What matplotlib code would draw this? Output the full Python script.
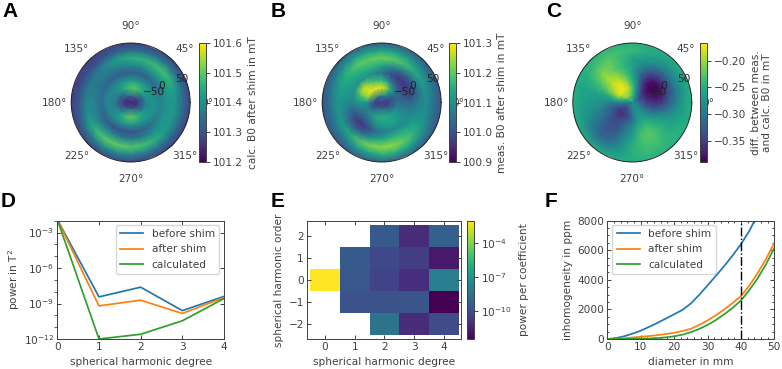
import numpy as np
import matplotlib
matplotlib.use('Agg')
import matplotlib.pyplot as plt
from matplotlib.colors import LogNorm
from matplotlib.ticker import NullFormatter, LogLocator, AutoMinorLocator

W, H = 782, 369
GREY = '#404040'

plt.rcParams['font.size'] = 7.6
plt.rcParams['axes.edgecolor'] = GREY
plt.rcParams['text.color'] = GREY
plt.rcParams['axes.labelcolor'] = GREY
plt.rcParams['xtick.color'] = GREY
plt.rcParams['ytick.color'] = GREY
plt.rcParams['axes.linewidth'] = 0.7

# values: one row per radius, one column per 15 degrees
theta_deg = np.arange(0, 360, 15)
radius = [0, 0.12, 0.25, 0.38, 0.5, 0.62, 0.75, 0.88, 1.03]

calc_b0 = [
    [101.24] * 24,
    [101.27, 101.27, 101.28, 101.30, 101.32, 101.34, 101.35, 101.34, 101.32, 101.30, 101.28, 101.27, 101.27, 101.27, 101.28, 101.30, 101.32, 101.34, 101.35, 101.34, 101.32, 101.30, 101.28, 101.27],
    [101.38, 101.39, 101.42, 101.45, 101.48, 101.50, 101.49, 101.47, 101.44, 101.41, 101.38, 101.37, 101.36, 101.37, 101.39, 101.42, 101.46, 101.49, 101.50, 101.49, 101.46, 101.43, 101.40, 101.38],
    [101.41, 101.41, 101.41, 101.41, 101.41, 101.41, 101.41, 101.40, 101.40, 101.39, 101.39, 101.39, 101.39, 101.39, 101.39, 101.40, 101.40, 101.40, 101.40, 101.40, 101.40, 101.41, 101.41, 101.41],
    [101.38, 101.36, 101.34, 101.33, 101.32, 101.32, 101.32, 101.32, 101.32, 101.33, 101.33, 101.34, 101.34, 101.33, 101.32, 101.31, 101.30, 101.30, 101.30, 101.31, 101.33, 101.35, 101.37, 101.38],
    [101.41, 101.41, 101.41, 101.41, 101.40, 101.38, 101.38, 101.37, 101.36, 101.36, 101.36, 101.37, 101.38, 101.38, 101.38, 101.39, 101.39, 101.38, 101.37, 101.37, 101.38, 101.40, 101.41, 101.41],
    [101.41, 101.43, 101.46, 101.48, 101.47, 101.46, 101.45, 101.43, 101.40, 101.37, 101.36, 101.37, 101.38, 101.40, 101.44, 101.48, 101.50, 101.50, 101.49, 101.48, 101.46, 101.43, 101.41, 101.41],
    [101.34, 101.35, 101.36, 101.37, 101.36, 101.35, 101.34, 101.33, 101.31, 101.30, 101.30, 101.30, 101.31, 101.32, 101.35, 101.37, 101.39, 101.39, 101.38, 101.37, 101.36, 101.35, 101.34, 101.34],
    [101.27] * 24,
]

meas_b0 = [
    [100.97] * 24,
    [100.98, 100.98, 101.00, 101.03, 101.05, 101.07, 101.08, 101.08, 101.07, 101.05, 101.03, 101.00, 100.98, 100.98, 100.99, 101.01, 101.03, 101.05, 101.05, 101.05, 101.03, 101.01, 100.99, 100.98],
    [101.05, 101.04, 101.05, 101.10, 101.17, 101.25, 101.28, 101.29, 101.29, 101.28, 101.26, 101.20, 101.12, 101.08, 101.08, 101.10, 101.13, 101.15, 101.15, 101.15, 101.14, 101.12, 101.10, 101.07],
    [101.04, 101.01, 101.00, 101.00, 101.03, 101.11, 101.16, 101.17, 101.20, 101.26, 101.25, 101.17, 101.11, 101.07, 101.04, 101.03, 101.06, 101.10, 101.12, 101.13, 101.13, 101.12, 101.10, 101.07],
    [101.03, 100.98, 100.97, 100.96, 100.97, 101.00, 101.05, 101.08, 101.10, 101.11, 101.11, 101.10, 101.08, 101.03, 100.98, 100.96, 100.98, 101.03, 101.06, 101.08, 101.09, 101.09, 101.09, 101.07],
    [101.07, 101.04, 101.03, 101.03, 101.05, 101.09, 101.13, 101.16, 101.15, 101.14, 101.13, 101.12, 101.10, 101.07, 101.03, 101.02, 101.05, 101.11, 101.14, 101.16, 101.16, 101.14, 101.12, 101.09],
    [101.10, 101.11, 101.13, 101.15, 101.18, 101.20, 101.21, 101.20, 101.20, 101.17, 101.14, 101.12, 101.11, 101.11, 101.12, 101.14, 101.19, 101.22, 101.23, 101.23, 101.20, 101.16, 101.12, 101.10],
    [101.05, 101.06, 101.07, 101.09, 101.11, 101.13, 101.13, 101.13, 101.13, 101.11, 101.08, 101.06, 101.05, 101.05, 101.06, 101.07, 101.11, 101.13, 101.15, 101.15, 101.13, 101.10, 101.07, 101.05],
    [101.00] * 24,
]

diff_b0 = [
    [-0.28] * 24,
    [-0.31, -0.32, -0.32, -0.31, -0.29, -0.26, -0.24, -0.22, -0.21, -0.21, -0.23, -0.26, -0.29, -0.31, -0.33, -0.33, -0.32, -0.31, -0.29, -0.28, -0.28, -0.28, -0.29, -0.30],
    [-0.35, -0.36, -0.37, -0.36, -0.33, -0.28, -0.23, -0.19, -0.175, -0.17, -0.18, -0.23, -0.29, -0.33, -0.355, -0.36, -0.355, -0.34, -0.31, -0.28, -0.27, -0.28, -0.30, -0.33],
    [-0.36, -0.38, -0.385, -0.385, -0.36, -0.30, -0.25, -0.21, -0.18, -0.18, -0.20, -0.25, -0.29, -0.32, -0.33, -0.34, -0.33, -0.31, -0.29, -0.26, -0.25, -0.26, -0.29, -0.33],
    [-0.35, -0.375, -0.385, -0.38, -0.35, -0.31, -0.26, -0.23, -0.20, -0.19, -0.22, -0.26, -0.28, -0.30, -0.32, -0.335, -0.33, -0.30, -0.27, -0.24, -0.23, -0.25, -0.27, -0.31],
    [-0.32, -0.34, -0.35, -0.34, -0.32, -0.29, -0.26, -0.24, -0.22, -0.20, -0.23, -0.26, -0.27, -0.29, -0.31, -0.33, -0.32, -0.29, -0.26, -0.23, -0.225, -0.24, -0.26, -0.29],
    [-0.29, -0.30, -0.30, -0.30, -0.28, -0.27, -0.26, -0.24, -0.22, -0.215, -0.24, -0.26, -0.27, -0.28, -0.30, -0.32, -0.31, -0.28, -0.25, -0.235, -0.23, -0.245, -0.26, -0.27],
    [-0.26, -0.27, -0.27, -0.27, -0.26, -0.25, -0.24, -0.235, -0.23, -0.235, -0.25, -0.26, -0.26, -0.265, -0.28, -0.29, -0.28, -0.265, -0.25, -0.24, -0.24, -0.245, -0.25, -0.26],
    [-0.25] * 24,
]

degree = [0, 1, 2, 3, 4]
power_before = [10**-1.9, 10**-8.44, 10**-7.62, 10**-9.6, 10**-8.4]
power_after = [10**-1.9, 10**-9.2, 10**-8.72, 10**-9.84, 10**-8.5]
power_calc = [10**-1.9, 10**-12.0, 10**-11.6, 10**-10.46, 10**-8.58]

# log10 of power per coefficient, rows are order 2 .. -2
coeff_log = [
    [np.nan, np.nan, -9.55, -11.2, -9.3],
    [np.nan, -9.55, -10.2, -10.6, -11.8],
    [-2.07, -9.65, -10.4, -11.1, -8.1],
    [np.nan, -9.85, -9.85, -9.75, -12.46],
    [np.nan, np.nan, -8.5, -11.2, -10.1],
]
orders = [2, 1, 0, -1, -2]

diameter = [0, 2.5, 5, 7.5, 10, 12.5, 15, 17.5, 20, 22.5, 25, 27.5, 30, 32.5, 35, 37.5, 40, 42.5, 45, 47.5, 50]
inhom_before = [0, 60, 180, 360, 560, 820, 1090, 1380, 1670, 1970, 2400, 2980, 3620, 4270, 4935, 5640, 6400, 7300, 8400, 9600, 11000]
inhom_after = [0, 20, 50, 100, 150, 200, 260, 335, 420, 540, 690, 950, 1250, 1600, 2000, 2430, 2900, 3600, 4450, 5400, 6500]
inhom_calc = [0, 2, 5, 10, 20, 35, 65, 110, 180, 295, 460, 680, 950, 1280, 1670, 2100, 2600, 3300, 4100, 5050, 6150]


fig = plt.figure(figsize=(W / 100, H / 100), dpi=100)


def px_axes(x0, y0, x1, y1, **kw):
    return fig.add_axes([x0 / W, 1 - y1 / H, (x1 - x0) / W, (y1 - y0) / H], **kw)


def polar_panel(cx, cb_x, grid, vmin, vmax, ticks, ticklabels, label, label_pad=4):
    ax = px_axes(cx - 59.5, 43, cx + 59.5, 162, projection='polar')
    th = np.deg2rad(np.append(theta_deg, 360))
    vals = np.array(grid)
    vals = np.c_[vals, vals[:, 0]]
    T, R = np.meshgrid(th, radius)
    ax.pcolormesh(T, R, vals, shading='gouraud', cmap='viridis', vmin=vmin, vmax=vmax)
    ax.set_ylim(0, 1)
    ax.set_yticks([0.22, 0.5, 0.81], ['\u221250', '0', '50'], color='#222222')
    ax.set_rlabel_position(22.5)
    ax.grid(False)
    ax.spines['polar'].set_color('#222222')
    ax.tick_params(axis='x', pad=5, length=0)
    ax.tick_params(axis='y', length=0)
    sm = ax.collections[0]
    cax = px_axes(cb_x, 43, cb_x + 6.7, 162)
    cb = fig.colorbar(sm, cax=cax, ticks=ticks)
    cb.ax.set_yticklabels(ticklabels)
    cb.ax.tick_params(length=3, width=0.7, pad=2)
    cb.set_label(label, labelpad=label_pad)
    return ax


polar_panel(130.7, 199, calc_b0, 101.2, 101.6,
            [101.2, 101.3, 101.4, 101.5, 101.6],
            ['101.2', '101.3', '101.4', '101.5', '101.6'], 'calc. B0 after shim in mT')
polar_panel(381.7, 449.3, meas_b0, 100.9, 101.3,
            [100.9, 101.0, 101.1, 101.2, 101.3],
            ['100.9', '101.0', '101.1', '101.2', '101.3'], 'meas. B0 after shim in mT', label_pad=3)
polar_panel(632.3, 700, diff_b0, -0.389, -0.167,
            [-0.35, -0.30, -0.25, -0.20],
            ['\u22120.35', '\u22120.30', '\u22120.25', '\u22120.20'],
            'diff. between meas.\nand calc. B0 in mT', label_pad=3.5)

# D
ax = px_axes(57.3, 220.7, 224, 339)
ax.plot(degree, power_before, color='C0', lw=1.25, label='before shim')
ax.plot(degree, power_after, color='C1', lw=1.25, label='after shim')
ax.plot(degree, power_calc, color='C2', lw=1.25, label='calculated')
ax.set_yscale('log')
ax.set_xlim(0, 4)
ax.set_ylim(1e-12, 1e-2)
ax.set_xticks(degree)
ax.set_yticks([1e-12, 1e-9, 1e-6, 1e-3])
ax.yaxis.set_minor_locator(LogLocator(base=10, subs=[], numticks=15))
ax.yaxis.set_minor_formatter(NullFormatter())
ax.tick_params(direction='in', top=True, right=True, length=3, width=0.7, pad=2.5)
ax.set_xlabel('spherical harmonic degree', labelpad=3.5)
ax.set_ylabel('power in T$^2$', labelpad=1)
ax.legend(loc='upper right', bbox_to_anchor=(0.97, 0.965), borderaxespad=0, fontsize=7.6,
          handlelength=2.2, labelspacing=0.5)

# E
ax = px_axes(307.3, 220.7, 460.7, 339)
coeff = 10.0 ** np.array(coeff_log)
mesh = ax.pcolormesh(degree, orders, coeff, cmap='viridis',
                     norm=LogNorm(vmin=10**-12.46, vmax=10**-2.07), shading='nearest')
ax.set_xlim(-0.6, 4.57)
ax.set_ylim(-2.7, 2.68)
ax.set_xticks(degree)
ax.set_yticks(orders, ['2', '1', '0', '\u22121', '\u22122'])
ax.tick_params(direction='in', top=True, right=True, length=3, width=0.7, pad=2.5)
ax.set_xlabel('spherical harmonic degree', labelpad=3.5)
ax.set_ylabel('spherical harmonic order', labelpad=3)
cax = px_axes(467, 220.7, 474.3, 339)
cb = fig.colorbar(mesh, cax=cax, ticks=[1e-10, 1e-7, 1e-4])
cb.ax.minorticks_off()
cb.ax.tick_params(length=3, width=0.7, pad=2)
cb.set_label('power per coefficient', labelpad=5)

# F
ax = px_axes(607.3, 220.7, 774.3, 339)
ax.plot(diameter, inhom_before, color='C0', lw=1.25, label='before shim')
ax.plot(diameter, inhom_after, color='C1', lw=1.25, label='after shim')
ax.plot(diameter, inhom_calc, color='C2', lw=1.25, label='calculated')
ax.axvline(40, color='k', ls='-.', lw=1.0)
ax.set_xlim(0, 50)
ax.set_ylim(0, 8000)
ax.set_xticks([0, 10, 20, 30, 40, 50])
ax.set_yticks([0, 2000, 4000, 6000, 8000])
ax.xaxis.set_minor_locator(AutoMinorLocator(5))
ax.yaxis.set_minor_locator(AutoMinorLocator(4))
ax.tick_params(which='both', direction='in', top=True, right=True, width=0.7, pad=2.5)
ax.tick_params(which='major', length=3)
ax.tick_params(which='minor', length=1.5)
ax.set_xlabel('diameter in mm', labelpad=3.5)
ax.set_ylabel('inhomogeneity in ppm', labelpad=2.5)
ax.legend(loc='upper left', bbox_to_anchor=(0.03, 0.965), borderaxespad=0, fontsize=7.6,
          handlelength=2.2, labelspacing=0.5)

# panel letters
for letter, x, y in [('A', 2, 17), ('B', 271, 17), ('C', 546, 17),
                     ('D', 1, 207), ('E', 271, 207), ('F', 545, 207)]:
    fig.text(x / W, 1 - y / H, letter, fontsize=15, fontweight='bold',
             family='Liberation Sans', color='black', va='baseline')

fig.savefig('out.png', dpi=100)
